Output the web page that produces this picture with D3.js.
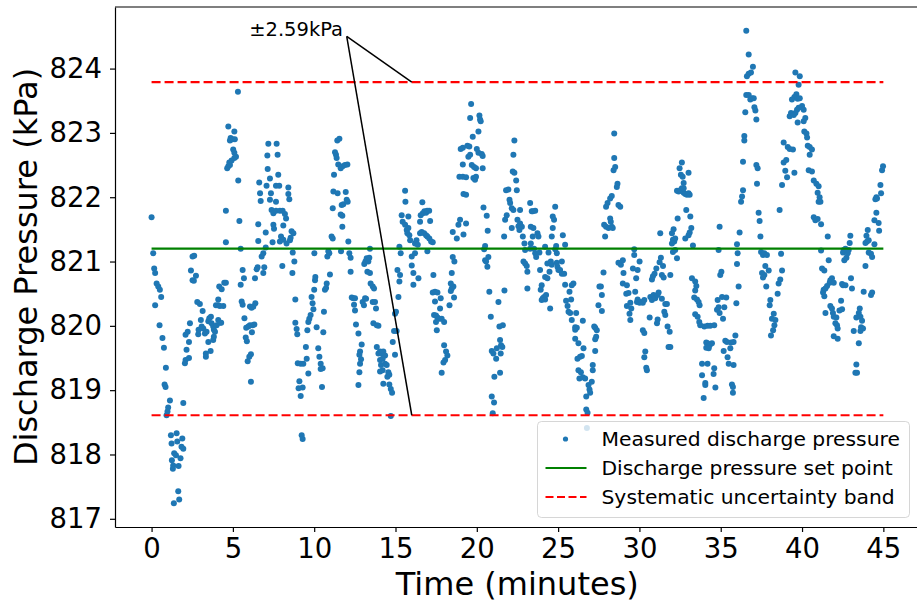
<!DOCTYPE html>
<html>
<head>
<meta charset="utf-8">
<script src="https://cdn.jsdelivr.net/npm/d3@7"></script>
<style>
  body { margin: 0; background: #fff; }
  svg text { font-family: "DejaVu Sans", sans-serif; fill: #000; }
</style>
</head>
<body>
<div id="scatter"></div>
<script>

// measured samples, read off the plot (time in minutes, pressure in kPa)
// each line of timeMin pairs with the same line of pressureKpa
var timeMin = [
  0,0.1,0.16,0.22,0.31,0.41,0.51,0.59,0.22,0.49,0.67,0.76,0.88,0.8,0.86,1.13,1.02,0.98,0.92,1.95,1.19,1.54,1.89,1.23,1.58,1.84,1.95,1.5,1.39,1.25,1.78,1.33,1.31,1.66,1.64,1.7,1.37,
  2.05,2.09,2.3,2.15,2.3,2.09,2.22,2.36,2.87,2.89,3.08,3.03,3.14,2.97,2.81,2.42,2.52,2.6,2.73,2.52,2.62,
  3.18,3.28,3.38,3.49,3.55,3.65,3.69,3.79,3.83,3.9,4.1,4.0,4.2,4.28,3.34,3.34,3.63,3.49,3.79,3.83,3.96,4.1,4.2,4.41,4.1,4.16,4.31,4.47,4.57,
  4.57,4.57,4.65,4.72,4.78,4.82,4.92,5.09,5.19,5.09,5.02,4.86,4.98,5.12,4.82,5.09,4.72,5.31,5.33,5.4,5.48,5.6,5.68,5.48,5.54,5.6,
  6.05,6.15,6.26,6.38,5.71,5.82,5.95,6.05,6.21,6.32,6.17,5.79,5.86,6.11,6.01,5.91,6.11,6.36,6.46,6.52,
  6.87,6.93,6.77,6.87,6.56,6.56,7.02,7.02,6.71,6.67,6.62,7.07,7.14,7.12,7.18,7.28,7.34,7.28,7.38,7.49,7.65,7.49,7.53,7.44,
  7.69,7.75,7.79,7.65,7.85,7.65,7.89,8.06,8.2,8.27,8.1,7.96,7.89,8.1,8.3,8.04,8.41,8.41,8.47,
  8.61,8.72,8.55,8.51,8.68,8.78,8.66,8.84,8.84,8.92,8.96,8.99,9.17,9.33,9.09,9.04,9.29,9.17,9.23,9.29,
  9.49,9.64,9.54,9.58,9.64,9.7,9.78,9.95,9.9,9.84,10.0,10.05,10.07,10.01,10.15,10.25,10.32,10.4,10.4,10.52,10.48,10.56,10.6,10.66,10.77,10.73,10.81,10.87,10.93,10.97,
  11.07,11.14,11.14,11.18,11.22,11.34,11.28,11.38,11.42,11.55,11.48,11.63,11.75,11.89,12.04,11.44,11.69,11.79,11.94,12.0,12.06,11.63,11.73,11.73,11.65,12.1,12.16,12.24,12.24,
  12.31,12.41,12.51,12.45,12.51,12.57,12.72,12.92,12.82,12.78,12.88,12.82,12.78,12.72,12.98,13.06,13.13,13.19,
  13.08,13.15,13.23,13.33,13.39,13.43,13.27,13.43,13.47,13.6,13.68,13.6,13.74,13.8,13.64,13.85,13.95,
  13.85,13.95,14.05,14.15,14.25,14.36,14.21,14.05,14.11,14.05,14.21,14.36,14.46,14.56,14.5,14.62,14.25,14.62,14.71,14.79,14.71,
  14.83,14.91,15.07,14.97,15.03,14.97,15.18,15.12,15.24,15.24,15.32,15.28,15.38,15.44,15.59,15.61,15.59,15.69,15.79,15.73,15.9,15.85,15.79,16.0,16.0,16.1,16.1,
  16.2,16.2,16.29,16.37,16.41,16.51,16.55,16.65,16.68,16.78,16.88,16.95,17.07,17.13,16.51,16.61,16.76,16.88,16.96,17.08,17.19,17.29,16.96,
  17.33,17.29,17.43,17.58,17.43,17.78,17.74,17.37,17.49,17.58,17.7,17.84,17.99,17.49,17.54,17.99,18.11,18.19,18.05,17.95,17.84,
  18.4,18.46,18.56,18.4,18.32,18.6,18.46,18.52,18.62,18.52,18.77,18.87,18.97,18.93,19.14,19.14,19.01,19.14,19.18,19.18,
  19.34,19.34,19.34,19.42,19.54,19.48,19.65,19.59,19.75,19.59,19.69,19.83,19.95,19.79,19.89,19.95,20.1,20.0,20.16,20.24,20.2,20.1,20.3,20.36,20.36,
  20.41,20.61,20.67,20.51,20.45,20.51,20.57,20.71,20.65,20.77,20.86,20.92,21.23,21.19,21.02,21.08,21.43,20.92,21.06,20.98,21.33,21.39,21.6,21.43,21.49,21.57,21.47,21.7,
  21.68,21.74,21.84,21.8,21.94,22.01,22.05,22.15,22.25,22.21,22.31,22.25,22.31,22.42,22.46,22.15,22.5,22.56,22.66,22.66,22.62,22.77,22.83,22.93,22.97,22.87,22.97,23.07,23.11,23.11,
  23.28,23.38,23.59,23.44,23.32,23.48,23.44,23.32,23.28,23.52,23.59,23.65,23.73,23.79,23.85,23.89,23.93,23.99,24.06,24.14,24.2,24.26,23.99,24.2,24.34,24.2,24.41,24.34,24.47,24.51,
  24.61,24.67,24.67,24.82,24.75,24.88,24.92,24.82,24.55,24.61,24.92,24.96,25.02,25.12,25.23,25.29,25.43,25.23,25.37,25.43,
  25.7,25.84,25.94,25.49,25.58,25.64,25.8,25.74,25.84,26.05,26.15,26.05,26.11,26.05,26.25,26.52,26.56,26.35,26.19,26.46,26.25,26.4,26.31,26.52,26.66,
  26.73,26.73,26.81,26.87,26.93,26.97,27.07,27.13,27.13,27.28,27.28,27.28,27.22,27.38,27.34,27.48,27.54,27.63,27.69,27.69,27.79,26.77,
  27.89,27.83,27.95,28.1,27.95,28.04,28.2,28.24,28.3,28.36,28.2,28.3,28.41,28.51,28.45,28.61,28.65,28.71,28.82,28.45,28.71,28.86,28.98,29.02,28.98,
  29.23,29.19,29.33,29.23,29.44,29.39,29.5,29.44,29.68,29.68,29.6,29.8,29.89,30.01,29.74,29.89,29.85,30.01,30.09,30.21,30.3,30.21,30.3,30.36,30.3,30.42,30.46,30.63,30.67,
  30.77,30.83,30.77,30.87,30.97,30.93,31.04,31.12,31.18,31.08,31.12,31.24,31.32,31.28,31.38,31.45,31.49,31.38,31.59,31.53,31.59,31.69,31.73,31.86,31.79,31.9,31.9,
  32.0,32.1,32.06,32.14,32.2,32.0,32.06,32.2,32.31,32.35,32.31,32.41,32.51,32.61,32.72,32.82,32.92,33.02,33.09,32.72,32.47,32.55,32.66,32.61,33.02,32.72,32.88,32.82,33.13,33.19,33.09,33.02,33.29,
  33.23,33.43,33.5,33.43,33.37,33.54,33.64,33.7,33.43,33.58,33.68,33.74,33.99,34.19,34.36,34.6,34.11,34.19,34.32,34.46,34.11,34.26,33.85,34.19,33.85,34.05,34.05,34.6,34.56,34.67,33.95,
  34.77,34.81,34.87,34.93,34.97,35.04,34.87,34.93,35.08,35.14,35.22,35.34,35.28,35.18,35.42,35.49,35.38,35.59,35.63,35.79,35.9,35.79,35.69,35.75,35.75,35.96,36.1,36.0,36.04,36.0,36.16,
  36.25,36.31,36.37,36.37,36.45,36.45,36.51,36.57,36.72,36.82,36.92,37.03,37.07,37.13,37.19,36.61,36.72,36.86,36.98,36.72,36.57,
  37.19,37.27,37.23,37.33,37.39,37.44,37.48,37.6,37.68,37.84,37.74,37.68,37.54,37.6,37.95,37.8,38.05,38.01,38.15,38.26,38.36,38.3,38.22,38.09,38.5,38.56,38.66,38.77,38.71,38.62,38.77,38.87,38.87,
  39.03,38.97,39.08,39.59,39.86,39.79,39.65,39.53,39.38,39.73,39.86,40.0,39.79,39.69,40.1,39.59,39.32,39.24,39.49,39.73,40.2,40.1,40.14,40.27,40.31,40.35,40.47,40.61,40.47,
  39.12,39.24,39.44,39.53,40.41,40.61,40.72,40.88,41.02,40.96,41.08,41.02,41.13,40.72,40.82,40.96,41.17,41.58,41.17,41.64,41.23,41.37,41.74,41.84,41.7,41.54,41.33,41.29,41.44,41.37,41.95,
  42.46,42.52,42.67,43.01,43.07,41.44,41.74,41.84,41.9,41.95,42.11,42.05,42.15,42.19,42.4,42.46,42.3,41.95,42.19,42.52,42.6,42.73,42.81,42.87,42.56,42.67,42.93,42.97,
  43.55,43.49,43.34,43.59,43.69,43.63,43.75,43.18,43.59,43.49,43.34,43.28,43.38,43.79,43.9,43.9,43.96,44.04,44.1,44.0,44.1,44.24,44.31,44.24,44.31,44.45,44.45,44.57,44.71,44.74,44.51,44.57,44.61,44.86,44.82,44.92,44.98
];

var pressureKpa = [
  821.69,821.13,820.89,820.82,820.66,820.61,820.56,820.45,820.32,820.01,819.81,819.66,819.35,819.09,819.05,818.84,818.73,818.67,818.61,818.8,818.3,818.33,818.25,818.17,818.2,818.12,818.09,817.99,818.02,817.91,817.94,817.83,817.78,817.82,817.43,817.3,817.24,
  819.42,819.47,819.5,819.63,819.75,819.86,819.91,820.04,819.87,819.94,819.99,820.09,820.23,820.34,820.37,820.86,820.71,820.7,820.78,821.08,821.09,
  819.96,819.88,819.91,820.07,820.12,820.14,820.04,819.99,819.94,819.91,820.09,820.01,820.05,820.05,819.57,819.52,819.61,819.75,819.78,819.83,820.32,820.32,820.31,820.31,820.41,820.61,820.57,820.67,820.67,
  821.3,821.79,822.45,822.48,822.54,822.5,822.57,822.61,822.63,822.69,822.74,822.92,822.9,822.9,822.88,823.02,823.1,823.64,822.26,821.63,821.2,820.87,820.74,820.64,820.38,820.33,
  820.3,820.28,820.3,820.35,820.12,819.97,819.99,820.01,820.01,820.02,819.9,819.82,819.76,819.56,819.52,819.45,819.13,820.74,820.88,820.91,
  820.82,820.91,821.08,821.13,821.32,821.58,821.45,821.22,821.94,822.06,822.23,822.18,822.44,822.65,822.83,822.29,822.06,821.96,821.8,821.75,821.79,821.57,821.51,821.3,
  822.83,822.66,822.35,822.18,822.18,821.93,821.79,821.79,821.74,821.67,821.56,821.39,821.31,821.34,821.28,820.93,822.15,822.05,821.97,
  821.47,821.44,821.37,821.33,821.14,821.0,820.82,820.41,820.05,819.95,819.87,819.42,819.41,819.41,819.14,819.03,819.04,818.91,818.3,818.24,
  819.67,819.26,819.49,819.93,820.06,820.11,820.17,820.26,820.35,820.45,820.56,820.71,820.76,821.13,819.98,819.65,819.52,819.41,819.33,819.34,819.05,819.9,820.22,820.56,820.66,820.59,821.08,821.16,821.13,820.8,
  821.39,821.36,821.83,822.09,822.35,822.66,822.7,822.61,822.88,822.91,822.51,822.45,822.48,822.5,822.51,822.06,821.88,821.89,822.08,821.96,821.93,821.73,821.71,821.54,821.16,821.31,821.13,821.06,820.84,
  820.44,820.43,820.43,820.33,820.24,820.02,819.88,819.71,819.6,819.55,819.48,819.41,819.28,819.08,820.37,820.32,820.43,820.42,
  820.96,821.0,821.05,821.0,821.06,821.2,820.84,820.82,820.66,820.61,820.58,820.37,820.37,820.27,820.04,820.01,820.0,
  819.67,819.57,819.6,819.57,819.6,819.54,819.49,819.47,819.39,819.29,819.31,819.41,819.39,819.28,819.21,819.24,819.1,819.09,819.02,818.96,818.6,
  819.75,819.92,819.92,820.19,820.22,819.55,820.45,820.87,820.69,821.23,821.13,820.79,821.72,821.62,822.1,821.93,821.57,821.49,821.52,821.44,821.33,821.41,821.7,821.08,820.94,820.64,820.82,
  821.28,821.13,821.33,821.26,820.74,821.62,821.72,821.92,821.75,821.78,821.76,821.79,821.79,821.63,821.44,821.46,821.44,821.41,821.39,821.36,821.31,821.3,821.16,
  820.79,820.52,820.53,820.52,820.38,820.43,820.27,820.17,820.16,820.13,820.11,820.11,820.06,820.06,819.93,819.7,819.6,819.54,819.47,819.43,819.27,
  820.54,820.58,820.61,820.66,820.32,820.44,820.82,821.07,821.0,821.46,821.36,821.57,821.65,822.32,822.32,822.51,822.75,822.77,822.05,821.42,
  822.31,822.04,821.59,822.8,822.79,822.63,823.45,823.23,822.94,822.66,822.5,822.47,822.45,822.3,822.27,822.32,823.02,822.75,823.27,823.18,823.21,822.69,822.67,822.64,822.45,
  821.84,821.71,821.48,821.24,821.19,821.02,821.0,821.07,820.92,820.53,820.14,819.61,819.65,819.49,819.57,819.21,819.27,818.9,818.81,818.64,820.37,819.99,820.01,819.78,819.7,819.67,819.57,820.55,
  821.39,821.65,821.72,822.11,822.12,821.96,821.91,821.83,821.8,822.4,822.38,822.66,822.88,822.26,822.11,821.52,821.65,821.55,821.59,821.8,821.49,821.54,821.39,821.28,821.18,821.0,820.97,820.93,820.84,820.58,
  821.91,821.78,821.79,821.78,821.54,821.52,821.39,821.28,821.2,821.2,821.13,821.07,821.44,821.39,821.14,820.87,820.56,820.63,820.43,820.45,820.41,820.48,820.4,820.76,820.74,821.23,821.14,820.97,820.84,820.27,
  821.39,821.52,821.7,821.85,821.65,821.24,821.13,821.19,821.0,820.95,820.98,820.92,820.87,820.87,821.0,821.41,821.26,820.81,820.81,820.64,
  820.53,820.63,820.66,820.39,820.31,820.22,820.41,820.2,820.09,819.98,819.97,819.94,820.2,819.8,819.73,820.08,819.65,819.52,819.49,819.53,819.31,819.28,819.18,819.2,819.18,
  818.9,818.7,818.65,819.08,819.01,818.96,819.13,819.39,819.31,819.61,819.79,819.97,819.99,819.93,819.83,820.32,820.61,820.61,820.48,820.23,820.83,818.41,
  821.39,821.57,821.54,821.52,821.85,821.91,821.67,821.62,821.54,821.52,821.98,822.02,822.42,822.47,822.61,822.16,822.21,821.88,821.85,822.99,820.98,820.95,821.02,820.82,820.66,
  820.63,820.5,820.51,820.31,820.36,820.19,820.27,820.09,821.19,821.1,820.89,820.74,820.87,821.0,820.53,820.41,820.37,820.36,820.37,820.36,820.4,819.93,819.89,819.6,819.51,819.35,819.31,820.13,820.45,
  820.72,820.77,820.4,820.48,820.43,820.81,820.89,820.48,820.52,820.04,820.1,820.99,821.06,821.44,820.79,820.93,820.75,820.42,820.34,820.22,820.17,820.34,819.99,819.91,819.67,819.67,820.79,
  821.44,821.5,821.34,821.31,821.36,821.28,821.15,821.18,821.05,821.67,822.1,822.09,822.11,822.14,822.07,822.05,822.04,822.06,822.04,822.14,822.45,822.35,822.32,822.54,822.38,822.22,821.8,821.36,821.7,821.52,821.45,821.41,821.25,
  820.74,820.69,820.62,820.55,820.44,820.41,820.37,820.32,820.18,820.14,820.06,820.01,819.99,820.0,820.0,820.01,819.74,819.73,819.7,819.73,819.66,819.65,819.41,819.41,819.23,819.11,819.08,819.34,819.25,819.04,818.88,
  820.25,820.4,820.29,820.2,820.79,820.84,821.18,821.54,820.45,820.11,820.29,820.44,819.77,819.61,819.51,819.41,819.75,819.65,819.74,819.75,819.85,819.39,819.09,819.05,818.96,820.35,820.61,821.27,821.13,820.96,821.45,
  821.93,822.01,822.11,822.55,822.95,822.88,823.32,823.59,823.59,823.52,823.54,823.54,823.4,823.35,823.21,823.88,823.92,823.94,824.03,824.22,824.59,
  822.5,822.45,822.21,821.76,821.63,821.39,821.15,821.1,821.13,821.1,820.93,820.79,820.82,820.75,820.86,820.61,820.4,820.32,820.11,820.19,820.09,820.01,819.93,819.85,820.5,820.66,820.72,820.86,821.12,821.8,822.19,822.54,822.85,
  822.58,822.41,822.31,823.94,823.88,823.75,823.6,823.56,823.52,823.53,823.54,823.42,823.39,823.36,823.36,823.31,823.31,823.26,823.28,823.16,823.23,823.18,823.02,822.99,822.93,822.8,822.78,822.74,822.66,
  822.78,822.75,822.74,822.38,822.42,822.4,822.26,822.21,822.17,822.07,822.0,821.93,821.93,821.69,821.64,821.66,821.58,821.39,821.17,821.02,820.89,820.86,820.71,820.74,820.67,820.62,820.56,820.52,820.58,820.46,820.67,
  820.65,820.63,820.63,820.74,820.58,820.2,820.31,820.27,820.2,820.14,820.13,820.04,820.01,819.96,820.39,820.26,820.24,819.84,819.8,821.14,821.02,821.06,821.13,821.18,821.18,821.2,821.29,821.4,
  820.27,820.2,820.13,820.14,820.08,819.98,819.96,819.92,819.92,819.73,819.4,819.27,819.27,820.53,820.93,821.29,821.4,821.49,821.33,821.31,821.14,821.12,821.07,820.48,820.52,821.27,821.64,821.76,821.6,821.48,821.97,822.0,821.98,822.06,822.19,822.42,822.48
];

var setPoint = 821.2;        // kPa
var bandHalfWidth = 2.59;    // systematic uncertainty, kPa
var lineStart = 0, lineEnd = 45;   // minutes

var xTicks = [0, 5, 10, 15, 20, 25, 30, 35, 40, 45];
var yTicks = [817, 818, 819, 820, 821, 822, 823, 824];

var xLabel = "Time (minutes)";
var yLabel = "Discharge Pressure (kPa)";
var legendLabels = ["Measured discharge pressure", "Discharge pressure set point", "Systematic uncertainty band"];

// annotation: text spot, where the two leader lines leave from, and where they land (time)
var annoText = "\u00b12.59kPa";
var annoTextAt = [6, 824.5];
var annoFrom = [12, 824.5];
var annoToTime = 16;

//Frame
var width = 917, height = 605;
var plot = {left: 115, right: 919.6, top: 7, bottom: 527};   // right spine sits just past the picture edge

var svg = d3.select("#scatter").append("svg")
    .attr("width", width)
    .attr("height", height);

var points = d3.zip(timeMin, pressureKpa);

// matplotlib style 5% margins around the data
var xExt = d3.extent(timeMin), yExt = d3.extent(pressureKpa);
var xPad = (xExt[1] - xExt[0]) * 0.05, yPad = (yExt[1] - yExt[0]) * 0.05;

var xScale = d3.scaleLinear()
    .domain([xExt[0] - xPad, xExt[1] + xPad])
    .range([plot.left, plot.right]);

var yScale = d3.scaleLinear()
    .domain([yExt[0] - yPad, yExt[1] + yPad])
    .range([plot.bottom, plot.top]);

// scatter first, lines go on top of it
svg.append("g")
    .selectAll("circle")
    .data(points)
    .enter()
    .append("circle")
    .attr("cx", function(d){ return xScale(d[0]); })
    .attr("cy", function(d){ return yScale(d[1]); })
    .attr("r", 3)
    .attr("fill", "#1f77b4");

// set point
svg.append("line")
    .attr("x1", xScale(lineStart)).attr("x2", xScale(lineEnd))
    .attr("y1", yScale(setPoint)).attr("y2", yScale(setPoint))
    .attr("stroke", "#008000")
    .attr("stroke-width", 2.2);

// uncertainty band
[setPoint + bandHalfWidth, setPoint - bandHalfWidth].forEach(function(v){
    svg.append("line")
        .attr("x1", xScale(lineStart)).attr("x2", xScale(lineEnd))
        .attr("y1", yScale(v)).attr("y2", yScale(v))
        .attr("stroke", "#ff0000")
        .attr("stroke-width", 2.2)
        .attr("stroke-dasharray", "9,4");
});

// annotation
[setPoint + bandHalfWidth, setPoint - bandHalfWidth].forEach(function(v){
    svg.append("line")
        .attr("x1", xScale(annoFrom[0])).attr("y1", yScale(annoFrom[1]))
        .attr("x2", xScale(annoToTime)).attr("y2", yScale(v))
        .attr("stroke", "#000")
        .attr("stroke-width", 1.5);
});

svg.append("text")
    .attr("x", xScale(annoTextAt[0]))
    .attr("y", yScale(annoTextAt[1]))
    .style("font-size", "19.5px")
    .text(annoText);

//Axes
var xAxis = d3.axisBottom(xScale)
    .tickValues(xTicks)
    .tickSize(5)
    .tickSizeOuter(0)
    .tickPadding(6);

var yAxis = d3.axisLeft(yScale)
    .tickValues(yTicks)
    .tickSize(5)
    .tickSizeOuter(0)
    .tickPadding(8);

var gx = svg.append("g")
    .attr("class", "x-axis")
    .attr("transform", "translate(0," + plot.bottom + ")")
    .call(xAxis);

var gy = svg.append("g")
    .attr("class", "y-axis")
    .attr("transform", "translate(" + plot.left + ",0)")
    .call(yAxis);

[gx, gy].forEach(function(g){
    g.attr("font-family", null).attr("font-size", null);
    g.selectAll("text").style("font-size", "27.5px").attr("fill", "#000");
    g.selectAll("line, path").attr("stroke", "#000").attr("stroke-width", 1.2);
});

// top and right spines
svg.append("path")
    .attr("d", "M" + plot.left + "," + plot.top + "H" + plot.right + "V" + plot.bottom)
    .attr("fill", "none")
    .attr("stroke", "#000")
    .attr("stroke-width", 1.2);

//Axis labels
svg.append("text")
    .attr("text-anchor", "middle")
    .attr("x", (plot.left + plot.right) / 2)
    .attr("y", 595)
    .style("font-size", "32px")
    .text(xLabel);

svg.append("text")
    .attr("text-anchor", "middle")
    .attr("transform", "translate(37," + ((plot.top + plot.bottom) / 2) + ")rotate(-90)")
    .style("font-size", "32px")
    .text(yLabel);

//Legend
var legend = svg.append("g").attr("transform", "translate(537.5,421.5)");

legend.append("rect")
    .attr("width", 372)
    .attr("height", 96)
    .attr("rx", 4)
    .attr("fill", "#fff")
    .attr("fill-opacity", 0.8)
    .attr("stroke", "#ccc")
    .attr("stroke-opacity", 0.8);

var rowY = [17.5, 46.5, 75.5];

legend.append("circle")
    .attr("cx", 28).attr("cy", rowY[0])
    .attr("r", 2.6)
    .attr("fill", "#1f77b4");

legend.append("line")
    .attr("x1", 8).attr("x2", 49)
    .attr("y1", rowY[1]).attr("y2", rowY[1])
    .attr("stroke", "#008000")
    .attr("stroke-width", 2.2);

legend.append("line")
    .attr("x1", 8).attr("x2", 49)
    .attr("y1", rowY[2]).attr("y2", rowY[2])
    .attr("stroke", "#ff0000")
    .attr("stroke-width", 2.2)
    .attr("stroke-dasharray", "8,3.5");

legend.selectAll("text.lbl")
    .data(legendLabels)
    .enter()
    .append("text")
    .attr("class", "lbl")
    .attr("x", 64)
    .attr("y", function(d, i){ return rowY[i] + 7; })
    .style("font-size", "20.3px")
    .text(function(d){ return d; });

</script>
</body>
</html>
